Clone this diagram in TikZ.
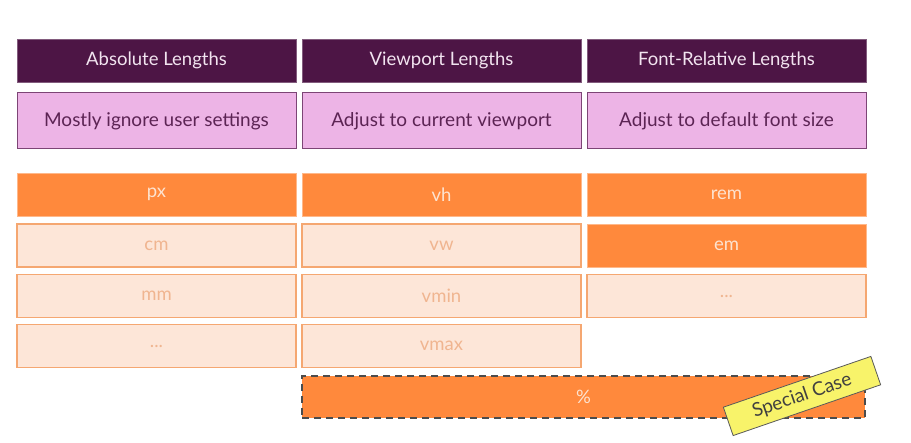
\documentclass[tikz,border=0pt]{standalone}
\usepackage{fontspec}
\setmainfont{Lato}
\definecolor{plum}{HTML}{4D1545}
\definecolor{plumtext}{HTML}{F2E4F0}
\definecolor{lilac}{HTML}{EDB4E6}
\definecolor{lilacedge}{HTML}{7D4576}
\definecolor{lilactext}{HTML}{5C2454}
\definecolor{tangerine}{HTML}{FF893C}
\definecolor{tangtext}{HTML}{FDE3D0}
\definecolor{peach}{HTML}{FDE6D8}
\definecolor{peachedge}{HTML}{F5A771}
\definecolor{peachtext}{HTML}{F0B590}
\definecolor{note}{HTML}{F8F36A}
\tikzset{
  cell/.style={minimum width=279pt, minimum height=43pt, inner sep=0pt, font=\fontsize{18.5}{21}\selectfont},
  headcell/.style={cell, fill=plum, draw=plum!70!white, line width=0.6pt, text=plumtext},
  desccell/.style={cell, minimum height=56pt, fill=lilac, draw=lilacedge, line width=1pt, text=lilactext, font=\fontsize{19}{22}\selectfont},
  unitcell/.style={cell, fill=tangerine, draw=tangerine!60!white, line width=0.6pt, text=tangtext},
  minorcell/.style={cell, fill=peach, draw=peachedge, line width=1.2pt, text=peachtext},
  specialcell/.style={minimum width=563pt, minimum height=42pt, inner sep=0pt, fill=tangerine, draw=black!70, line width=1.8pt, dash pattern=on 7pt off 5pt, text=tangtext, font=\fontsize{18.5}{21}\selectfont},
  tag/.style={minimum width=156pt, minimum height=30pt, inner sep=0pt, fill=note, draw=black!65, line width=0.8pt, text=black!75, font=\fontsize{19}{22}\selectfont, rotate=19}
}
\begin{document}
\begin{tikzpicture}[x=1pt,y=-1pt]
  \useasboundingbox (0,0) rectangle (911,443);
  % column headers
  \node[headcell] (hAbs) at (156.5,60.5) {Absolute Lengths};
  \node[headcell] (hVp)  at (441.5,60.5) {Viewport Lengths};
  \node[headcell] (hFont) at (726.5,60.5) {Font-Relative Lengths};
  % descriptions
  \node[desccell] (dAbs) at (156.5,121) {Mostly ignore user settings};
  \node[desccell] (dVp)  at (441.5,121) {Adjust to current viewport};
  \node[desccell] (dFont) at (726.5,121) {Adjust to default font size};
  % absolute units
  \node[unitcell]  (px)  at (156.5,194.5) {px};
  \node[minorcell] (cm)  at (156.5,245.5) {cm};
  \node[minorcell] (mm)  at (156.5,296) {mm};
  \node[minorcell] (absmore) at (156.5,346) {...};
  % viewport units
  \node[unitcell]  (vh)   at (441.5,194.5) {vh};
  \node[minorcell] (vw)   at (441.5,245.5) {vw};
  \node[minorcell] (vmin) at (441.5,296) {vmin};
  \node[minorcell] (vmax) at (441.5,346) {vmax};
  % font-relative units
  \node[unitcell]  (rem) at (726.5,194.5) {rem};
  \node[unitcell]  (em)  at (726.5,245.5) {em};
  \node[minorcell] (fontmore) at (726.5,296) {...};
  % percentage, with its slanted label
  \node[specialcell] (pct) at (583.5,397) {\%};
  \node[tag] (special) at (802,396) {Special Case};
\end{tikzpicture}
\end{document}
